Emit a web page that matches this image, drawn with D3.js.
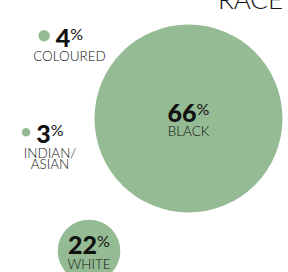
<!DOCTYPE html>
<html lang="en">
<head>
  <meta charset="UTF-8">
  <script src="https://d3js.org/d3.v7.min.js"></script>
  <style>
    body { margin: 0; background: #fff; }
    text { font-family: 'Lato', sans-serif; fill: #111; }
    .num { font-weight: 900; font-size: 25px; }
    .pct { font-weight: 400; font-size: 16px; }
    .lbl { font-weight: 300; font-size: 13.5px; }
  </style>
</head>
<body>
<script>
  // values
  const categories = ["BLACK", "WHITE", "COLOURED", "INDIAN/ASIAN"];
  const values = [66, 22, 4, 3];
  const labelLines = [["BLACK"], ["WHITE"], ["COLOURED"], ["INDIAN/", "ASIAN"]];
  const title = "RACE";

  const width = 288, height = 272;
  const svg = d3.select("body").append("svg")
    .attr("width", width)
    .attr("height", height);

  // radius grows linearly with the share
  const r = d3.scaleLinear().domain([0, d3.max(values)]).range([0, 94]);

  // where each bubble / label sits (inside = label in the bubble)
  const layout = [
    { cx: 188.5, cy: 118.5, inside: true },
    { cx: 89, cy: 251, inside: true },
    { tx: 69.5, ty: 46.7, inside: false },
    { tx: 50, ty: 143.3, inside: false }
  ];

  svg.append("text")
    .attr("x", 283).attr("y", 9)
    .attr("text-anchor", "end")
    .style("font-size", "26px")
    .style("font-weight", 300)
    .text(title);

  categories.forEach((c, i) => {
    const p = layout[i];
    const v = values[i];
    const g = svg.append("g");
    let tx, ty;
    if (p.inside) {
      g.append("circle")
        .attr("cx", p.cx).attr("cy", p.cy).attr("r", r(v))
        .attr("fill", "#94bb93");
      tx = p.cx;
      ty = p.cy + 3.2;
    } else {
      tx = p.tx; ty = p.ty;
    }
    const t = g.append("text")
      .attr("x", tx).attr("y", ty)
      .attr("text-anchor", "middle");
    t.append("tspan").attr("class", "num").text(v);
    t.append("tspan").attr("class", "pct").attr("dy", -7).text("%");

    labelLines[i].forEach((line, j) => {
      g.append("text")
        .attr("class", "lbl")
        .attr("x", tx)
        .attr("y", ty + 14.3 + j * 11.5)
        .attr("text-anchor", "middle")
        .text(line);
    });

    if (!p.inside) {
      // small dot left of the number
      const bb = t.node().getBBox();
      g.append("circle")
        .attr("cx", bb.x - 6 - r(v))
        .attr("cy", ty - 11)
        .attr("r", r(v))
        .attr("fill", "#94bb93");
    }
  });
</script>
</body>
</html>
